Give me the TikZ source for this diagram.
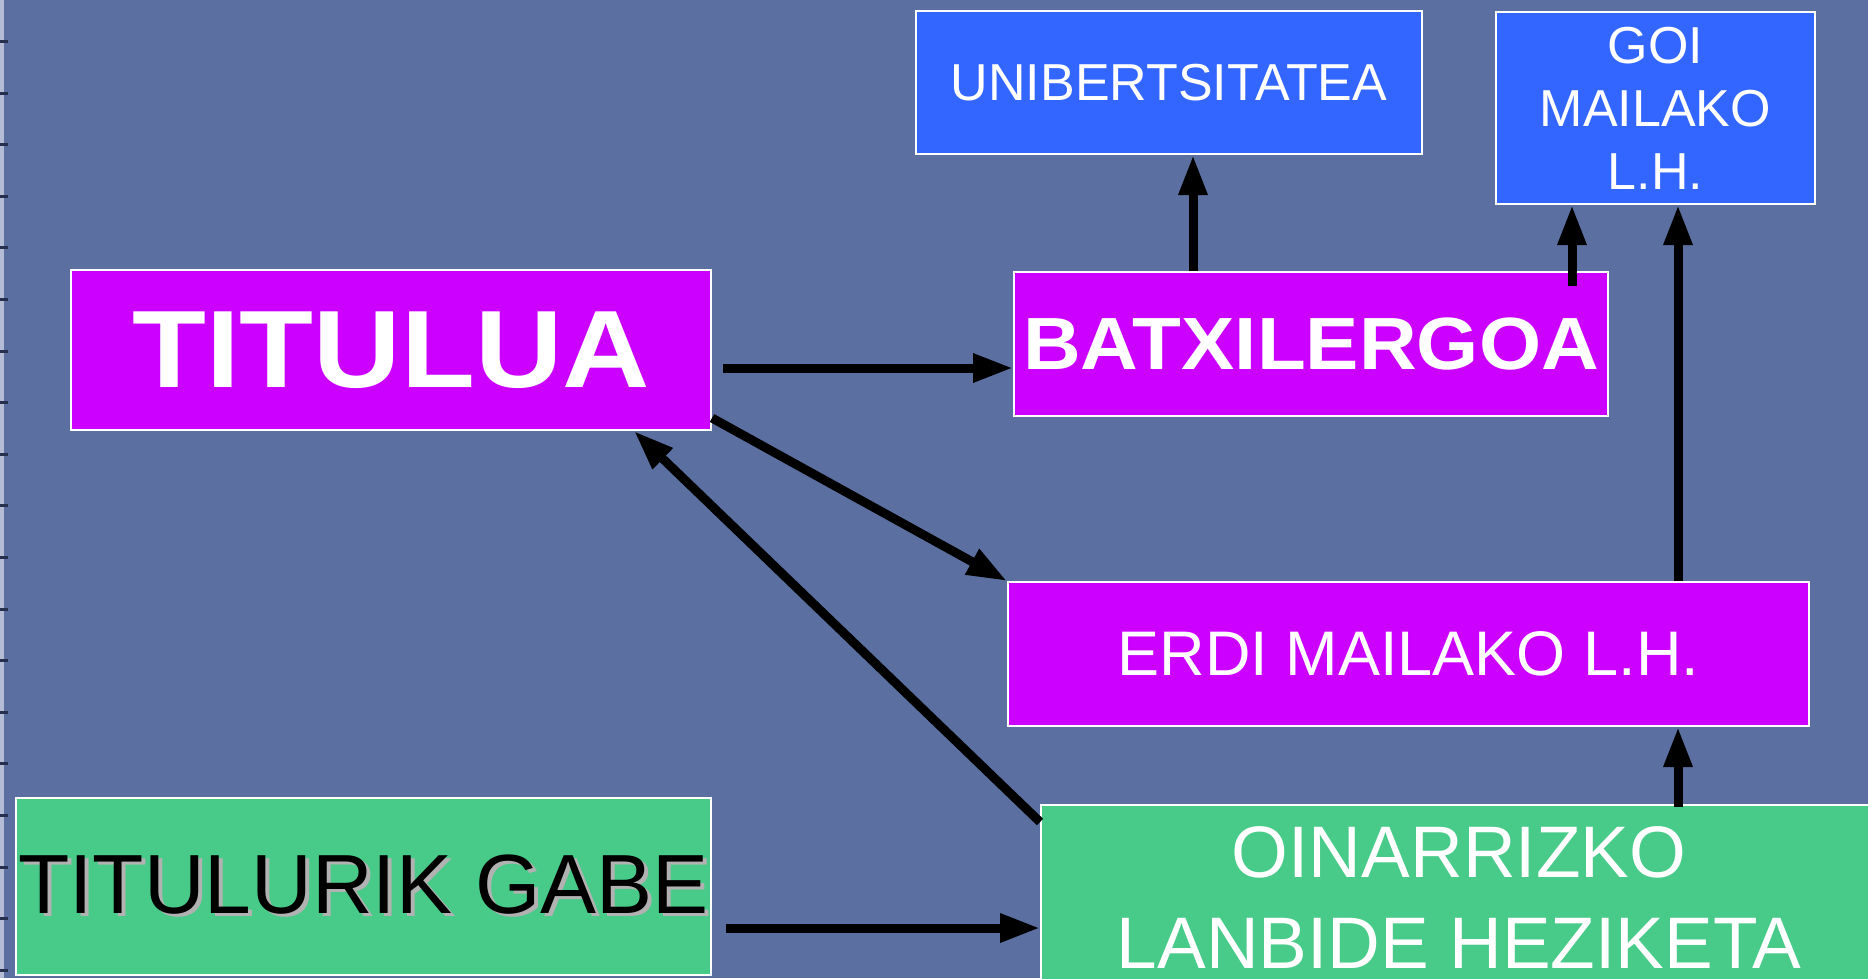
\documentclass[tikz,border=0pt]{standalone}
\usepackage{fontspec}
\setmainfont{Liberation Sans}
\usetikzlibrary{arrows.meta}
\definecolor{bgblue}{HTML}{5B70A1}
\definecolor{edgestrip}{HTML}{B4BCD6}
\definecolor{edgetick}{HTML}{26304E}
\definecolor{boxmag}{HTML}{CC00FF}
\definecolor{boxblue}{HTML}{3366FF}
\definecolor{boxgreen}{HTML}{48CA89}
\definecolor{shadowgray}{HTML}{B2B2B2}
\newcommand{\shadowtxt}[1]{\rlap{\kern4pt\raisebox{-3pt}{\color{shadowgray}#1}}#1}
\begin{document}
\begin{tikzpicture}[
    box/.style={draw=white, line width=2pt, inner sep=0pt, anchor=north west, text=white, align=center},
    magbox/.style={box, fill=boxmag},
    bluebox/.style={box, fill=boxblue},
    greenbox/.style={box, fill=boxgreen},
    arr/.style={line width=9pt, -{Triangle[length=40pt,width=27pt]}},
  ]
    \useasboundingbox (0pt,0pt) rectangle (1868pt,-978pt);
    \fill[bgblue] (0pt,0pt) rectangle (1868pt,-978pt);
    \clip (0pt,0pt) rectangle (1868pt,-978pt);
    \fill[edgestrip] (0pt,0pt) rectangle (4pt,-978pt);
    \draw[edgetick, line width=8pt, dash pattern=on 3pt off 48.6pt] (4pt,-40pt) -- (4pt,-978pt);

    % boxes
    \node[bluebox, minimum width=506pt, minimum height=143pt, font=\fontsize{52}{63}\selectfont] (uni) at (915pt,-10pt)
        {UNIBERTSITATEA};
    \node[bluebox, minimum width=319pt, minimum height=192pt, font=\fontsize{52}{63}\selectfont] (goi) at (1495pt,-11pt)
        {GOI\\MAILAKO\\L.H.};
    \node[magbox, minimum width=640pt, minimum height=160pt, font=\fontsize{110}{110}\selectfont\bfseries] (tit) at (70pt,-269pt)
        {\scalebox{1.1}[1]{TITULUA}};
    \node[magbox, minimum width=594pt, minimum height=144pt, font=\fontsize{74}{74}\selectfont\bfseries] (bat) at (1013pt,-271pt)
        {\scalebox{1.08}[1]{BATXILERGOA}};
    \node[magbox, minimum width=801pt, minimum height=144pt, font=\fontsize{63}{63}\selectfont] (erdi) at (1007pt,-581pt)
        {ERDI MAILAKO L.H.};
    \node[greenbox, text=black, minimum width=695pt, minimum height=177pt, font=\fontsize{84}{84}\selectfont] (gabe) at (15pt,-797pt)
        {\shadowtxt{TITULURIK GABE}};
    \node[greenbox, minimum width=836pt, minimum height=185pt, font=\fontsize{73}{91}\selectfont] (oin) at (1040pt,-804pt)
        {OINARRIZKO\\LANBIDE HEZIKETA};

    % arrow rows and columns
    \coordinate (rowA) at (0pt,-368pt);
    \coordinate (rowB) at (0pt,-928pt);
    \coordinate (colU) at (1193pt,0pt);
    \coordinate (colG) at (1572pt,0pt);
    \coordinate (colL) at (1678pt,0pt);

    % arrows
    \draw[arr, shorten <=11pt] (tit.east |- rowA) -- (bat.west |- rowA);
    \draw[arr, shorten <=14pt] (gabe.east |- rowB) -- (oin.west |- rowB);
    \draw[arr] ([yshift=13pt]tit.south east) -- (erdi.north west);
    \draw[arr] ([yshift=-18pt]oin.north west) -- ([xshift=-78pt]tit.south east);
    \draw[arr] (bat.north -| colU) -- (uni.south -| colU);
    \draw[arr, shorten <=-15pt] (bat.north -| colG) -- (goi.south -| colG);
    \draw[arr] (erdi.north -| colL) -- (goi.south -| colL);
    \draw[arr, shorten <=-3pt] (oin.north -| colL) -- (erdi.south -| colL);
\end{tikzpicture}
\end{document}
